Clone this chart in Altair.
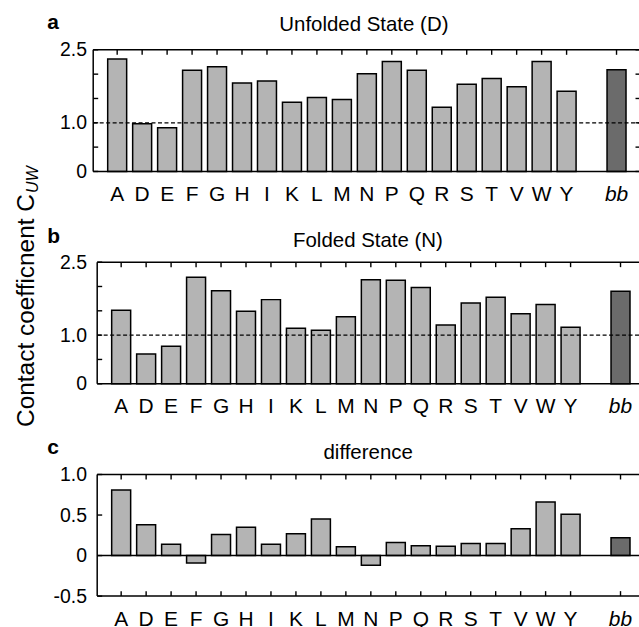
import altair as alt
import pandas as pd

categories = ["A", "D", "E", "F", "G", "H", "I", "K", "L", "M",
              "N", "P", "Q", "R", "S", "T", "V", "W", "Y", "bb"]
unfolded = [2.31, 0.98, 0.90, 2.08, 2.15, 1.82, 1.86, 1.42, 1.52, 1.48,
            2.01, 2.26, 2.08, 1.32, 1.79, 1.91, 1.74, 2.26, 1.65, 2.09]
folded = [1.51, 0.61, 0.77, 2.19, 1.91, 1.49, 1.73, 1.14, 1.10, 1.38,
          2.14, 2.13, 1.98, 1.21, 1.66, 1.78, 1.44, 1.63, 1.16, 1.90]
difference = [0.81, 0.38, 0.14, -0.09, 0.26, 0.35, 0.14, 0.27, 0.45, 0.11,
              -0.12, 0.16, 0.12, 0.115, 0.15, 0.15, 0.33, 0.66, 0.51, 0.22]

panel_letters = ["a", "b", "c"]
panel_titles = ["Unfolded State (D)", "Folded State (N)", "difference"]
y_title_main = ["Contact coefficnent C"]
y_title_sub = ["UW"]
ab_tick_values = [0, 0.5, 1.0, 1.5, 2.0, 2.5]
ab_label_values = [0, 1.0, 2.5]
c_tick_values = [-0.5, 0, 0.5, 1.0]
reference_one = [1.0]
reference_zero = [0.0]

FONT = "Liberation Sans"
W, H = 549, 122
LIGHT, DARK = "#b4b4b4", "#6b6b6b"
GAP = "_gap"
x_domain = categories[:-1] + [GAP] + categories[-1:]

x_axis = alt.Axis(
    title=None, domain=False, ticks=False, tickSize=0, grid=False,
    labelAngle=0, labelFont=FONT, labelFontSize=21, labelPadding=12,
    labelColor="black", labelOverlap=False,
    labelExpr=f"datum.value == '{GAP}' ? '' : datum.value",
    labelFontStyle={"condition": {"test": "datum.value == 'bb'", "value": "italic"},
                    "value": "normal"},
)


def y_axis(values):
    return alt.Axis(
        title=None, domain=False, ticks=False, tickSize=0, grid=False,
        values=values,
        labelExpr="datum.value == 0 ? '0' : (datum.value < 0 ? '-' : '') + format(abs(datum.value), '.1f')",
        labelFont=FONT, labelFontSize=19.5, labelPadding=10.7, labelColor="black",
    )


def text_layer(txt, x, y, size, **kw):
    return alt.Chart(pd.DataFrame({"t": txt})).mark_text(
        font=FONT, fontSize=size, color="black", **kw
    ).encode(text="t:N", x=alt.value(x), y=alt.value(y))


def frame_rule(**enc):
    return alt.Chart(pd.DataFrame({"f": [0]})).mark_rule(
        color="black", strokeWidth=1.5).encode(**{k: alt.value(v) for k, v in enc.items()})


def panel(values, domain, label_values, tick_values, ref_values, dashed,
          idx, letter_xy, title_x, title_y, shift=0, extra=None):
    x0, x1 = -shift, W - shift
    X = alt.X("cat:N", sort=x_domain, axis=x_axis,
              scale=alt.Scale(domain=x_domain, paddingInner=0.24, paddingOuter=0.58,
                              range=[x0, x1]))
    yax = y_axis(label_values)
    ysc = alt.Scale(domain=domain, nice=False, zero=False)
    df = pd.DataFrame({"cat": categories, "value": values})
    tick_cats = pd.DataFrame({"cat": categories})
    yt = pd.DataFrame({"t": tick_values})

    xt_top = alt.Chart(tick_cats).mark_rule(color="black", strokeWidth=1.4).encode(
        x=X, y=alt.value(0), y2=alt.value(5))
    xt_bot = alt.Chart(tick_cats).mark_rule(color="black", strokeWidth=1.4).encode(
        x=X, y=alt.value(H - 5), y2=alt.value(H))
    yt_left = alt.Chart(yt).mark_rule(color="black", strokeWidth=1.4).encode(
        y=alt.Y("t:Q", scale=ysc, axis=yax), x=alt.value(x0), x2=alt.value(x0 + 5))
    yt_right = alt.Chart(yt).mark_rule(color="black", strokeWidth=1.4).encode(
        y=alt.Y("t:Q", scale=ysc, axis=yax), x=alt.value(x1 - 5), x2=alt.value(x1))

    bars = alt.Chart(df).mark_bar(stroke="black", strokeWidth=1.5).encode(
        x=X,
        y=alt.Y("value:Q", scale=ysc, axis=yax),
        color=alt.condition(alt.datum.cat == "bb", alt.value(DARK), alt.value(LIGHT)),
    )
    rule_kw = dict(color="black", strokeWidth=1.3)
    if dashed:
        rule_kw["strokeDash"] = [4, 2.5]
    else:
        rule_kw["strokeWidth"] = 1.5
    ref = alt.Chart(pd.DataFrame({"r": ref_values})).mark_rule(**rule_kw).encode(
        y=alt.Y("r:Q", scale=ysc, axis=yax), x=alt.value(x0), x2=alt.value(x1))

    frame = [
        frame_rule(x=x0, x2=x1, y=0),
        frame_rule(x=x0, x2=x1, y=H),
        frame_rule(x=x0, y=0, y2=H),
        frame_rule(x=x1, y=0, y2=H),
    ]

    letter = text_layer([panel_letters[idx]], letter_xy[0], letter_xy[1], 21,
                        fontWeight="bold", align="left", baseline="alphabetic")
    title = text_layer([panel_titles[idx]], title_x, title_y, 20.5,
                       align="center", baseline="alphabetic")
    layers = [xt_top, xt_bot, yt_left, yt_right, bars, ref] + frame + [letter, title]
    if extra:
        layers += extra
    return alt.layer(*layers).properties(
        width=W, height=H, view=alt.ViewBackground(stroke="transparent"))


ytitle = text_layer(y_title_main, -63.7, 165.3, 24.5, angle=270,
                    align="left", baseline="alphabetic")
ysub = text_layer(y_title_sub, -59.7, -69.5, 16, angle=270, fontStyle="italic",
                  align="left", baseline="alphabetic")

pa = panel(unfolded, [0, 2.5], ab_label_values, ab_tick_values, reference_one, True,
           0, (-50, -20.7), 267.5, -18.5, shift=4)
pb = panel(folded, [0, 2.5], ab_label_values, ab_tick_values, reference_one, True,
           1, (-50, -19.7), 271.6, -15.5, extra=[ytitle, ysub])
pc = panel(difference, [-0.5, 1.0], c_tick_values, c_tick_values, reference_zero, False,
           2, (-50, -20.3), 271.8, -15.5)

chart = alt.vconcat(pa, pb, pc, spacing=91, bounds="flush").properties(
    padding={"left": 12.5, "top": 10, "right": -7.5, "bottom": -1},
    background="white",
)

chart.save("out.html", embed_options={"renderer": "svg", "actions": False})
